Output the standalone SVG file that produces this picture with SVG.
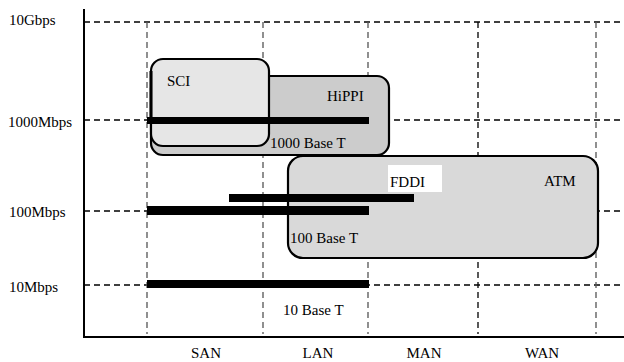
<svg xmlns="http://www.w3.org/2000/svg" width="624" height="362" viewBox="0 0 624 362">
<style>
.t{font-family:'Liberation Serif','Times New Roman',Times,serif;font-size:15px;fill:#000}
.gd{stroke:#000;stroke-width:1.3;stroke-dasharray:6,4;fill:none}
.gg{stroke:#555;stroke-width:1.3;stroke-dasharray:6,4;fill:none}
.box{stroke:#000;stroke-width:2.2}
.bar{fill:#000}
</style>
<rect width="624" height="362" fill="#fff"/>
<g id="grid">
<line class="gd" x1="84" y1="22" x2="624" y2="22"/>
<line class="gd" x1="84" y1="120" x2="624" y2="120"/>
<line class="gd" x1="84" y1="211" x2="624" y2="211"/>
<line class="gd" x1="84" y1="285" x2="624" y2="285"/>
<line class="gg" x1="147" y1="22" x2="147" y2="334"/>
<line class="gg" x1="263" y1="22" x2="263" y2="334"/>
<line class="gg" x1="368" y1="22" x2="368" y2="334"/>
<line class="gd" x1="478" y1="22" x2="478" y2="334"/>
<line class="gg" x1="596" y1="22" x2="596" y2="334"/>
</g>
<g id="axes" stroke="#000" stroke-width="2" fill="none">
<line x1="84" y1="9" x2="84" y2="338"/>
<line x1="83" y1="337" x2="624" y2="337"/>
</g>
<g id="HiPPI">
<rect class="box" x="151" y="76" width="238" height="79" rx="12" fill="#cccccc"/>
<text class="t" x="327" y="101">HiPPI</text>
</g>
<g id="SCI">
<rect class="box" x="151" y="59" width="118" height="87" rx="12" fill="#e6e6e6"/>
<text class="t" x="167" y="86">SCI</text>
</g>
<g id="ATM">
<rect class="box" x="288" y="156" width="310" height="102" rx="15" fill="#d9d9d9"/>
<text class="t" x="544" y="186">ATM</text>
</g>
<g id="FDDI">
<rect x="388" y="165" width="54" height="27" fill="#fff"/>
<text class="t" x="390" y="187">FDDI</text>
<rect class="bar" x="229" y="194" width="185" height="8"/>
</g>
<g id="b1000">
<line x1="151" y1="71" x2="151" y2="120" stroke="#000" stroke-width="3"/>
<rect class="bar" x="147" y="117" width="222" height="7"/>
<text class="t" x="270" y="148">1000 Base T</text>
</g>
<g id="b100">
<rect class="bar" x="147" y="206" width="222" height="9"/>
<text class="t" x="290" y="243">100 Base T</text>
</g>
<g id="b10">
<rect class="bar" x="147" y="280" width="222" height="8"/>
<text class="t" x="283" y="315">10 Base T</text>
</g>
<g id="ylabels">
<text class="t" x="9" y="25">10Gbps</text>
<text class="t" x="8" y="127">1000Mbps</text>
<text class="t" x="9" y="217">100Mbps</text>
<text class="t" x="9" y="292">10Mbps</text>
</g>
<g id="xlabels">
<text class="t" x="206" y="358" text-anchor="middle">SAN</text>
<text class="t" x="318" y="358" text-anchor="middle">LAN</text>
<text class="t" x="424" y="358" text-anchor="middle">MAN</text>
<text class="t" x="542" y="358" text-anchor="middle">WAN</text>
</g>
</svg>
